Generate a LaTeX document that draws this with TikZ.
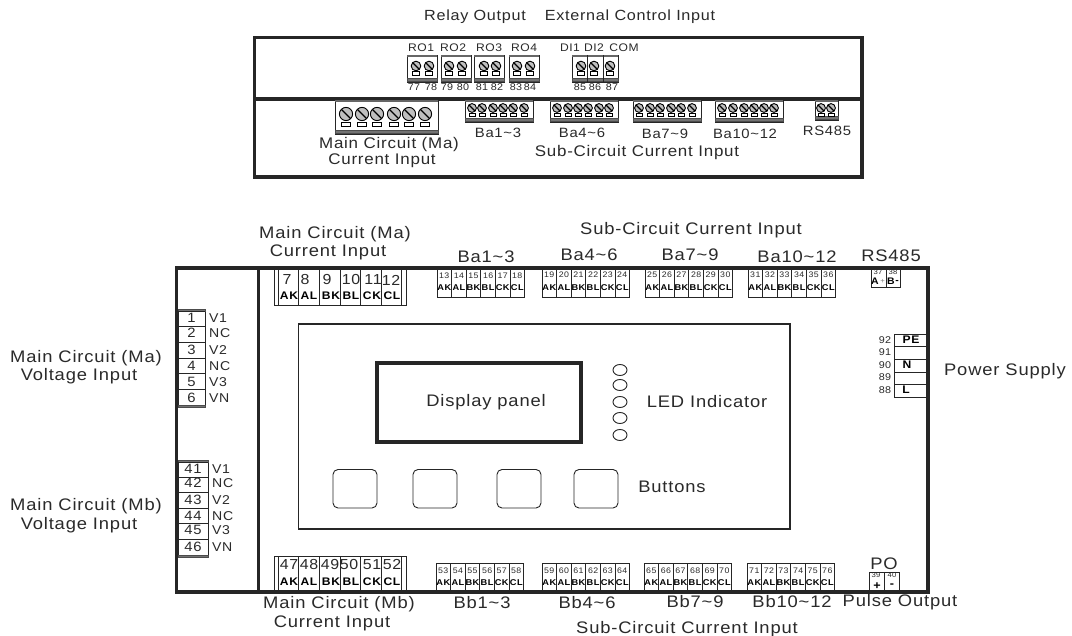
\documentclass[tikz,border=0pt]{standalone}
\usepackage{fontspec}
\setmainfont{Liberation Sans}[LetterSpace=5,FakeStretch=1.1]
\definecolor{inkgray}{HTML}{2A2A2A}
\tikzset{
  wall/.style={line width=3.2pt, color=black!85},
  thinline/.style={line width=0.8pt, color=black!85},
  graybar/.style={fill=black!55, draw=black!70, line width=0.5pt},
  biglabel/.style={inner sep=0pt, text=inkgray, font=\fontsize{16.7}{18}\selectfont},
  toplabel/.style={inner sep=0pt, text=inkgray, font=\fontsize{15.4}{18}\selectfont},
  balabel/.style={inner sep=0pt, text=inkgray, font=\fontsize{13.5}{15}\selectfont},
  headlabel/.style={inner sep=0pt, text=inkgray, font=\fontsize{14.7}{18}\selectfont},
  midlabel/.style={inner sep=0pt, text=inkgray, font=\fontsize{11}{13}\selectfont},
  smallnum/.style={inner sep=0pt, text=inkgray, font=\fontsize{9.8}{11}\selectfont},
  pinnum/.style={inner sep=0pt, text=inkgray, font=\fontsize{14.5}{15}\selectfont},
  tinynum/.style={inner sep=0pt, text=inkgray, font=\fontsize{8}{9}\selectfont},
  microcap/.style={inner sep=0pt, text=inkgray, font=\fontsize{7}{8}\selectfont},
  pinbold/.style={inner sep=0pt, text=black, font=\fontsize{11}{12}\bfseries\selectfont},
  tinybold/.style={inner sep=0pt, text=black, font=\fontsize{8.4}{9}\bfseries\selectfont},
  sidelabel/.style={inner sep=0pt, anchor=west, text=inkgray, font=\fontsize{12.8}{14}\selectfont},
  ledlamp/.style={draw=black!85, line width=0.9pt},
  keybtn/.style={draw=black!85, line width=0.9pt, rounded corners=5pt}
}
\newcommand{\screwblock}[7]{%
  \draw[thinline, fill=white] (#1,#3) rectangle (#2,#4);
  \draw[graybar] (#1,#4-3.5) rectangle (#2,#4-1);
  \draw[line width=1.2pt, color=black!60] (#1,#3+1) -- (#2,#3+1);
  \foreach \sx in {#5} {
    \draw[line width=0.9pt, fill=black!25] (\sx,#6) circle (#7);
    \draw[line width=1.4pt] (\sx-0.7*#7,#6-0.7*#7) -- (\sx+0.7*#7,#6+0.7*#7);
    \draw[line width=0.6pt] (\sx-0.7*#7,#6+1.55*#7-1.7) rectangle (\sx+0.7*#7,#6+1.55*#7+1.7);
  }
}
\newcommand{\tinycells}[6]{%
  \foreach \lab [count=\i from 0] in {AK,AL,BK,BL,CK,CL} {
    \pgfmathsetmacro{\xa}{#1+14.6*\i}
    \pgfmathsetmacro{\xb}{#1+14.6*\i+14.6}
    \pgfmathsetmacro{\xc}{#1+14.6*\i+7.3}
    \pgfmathtruncatemacro{\num}{#4+\i}
    \draw[thinline] (\xa,#2) rectangle (\xb,#3);
    \node[tinynum] (n\num) at (\xc,#5) {\num};
    \node[tinybold] (t\num) at (\xc,#6) {\lab};
  }
}
\newcommand{\pincells}[5]{%
  \draw[thinline] (274,#1) rectangle (406,#2);
  \draw[line width=0.8pt, color=black!50] (278.3,#1) -- (278.3,#2) (401.7,#1) -- (401.7,#2);
  \foreach \n/\lab/\xa/\xb/\xn/\xl in {#5} {
    \draw[thinline] (\xa,#1) -- (\xa,#2) (\xb,#1) -- (\xb,#2);
    \node[pinnum] (n\n) at (\xn,#3) {\n};
    \node[pinbold] (t\n) at (\xl,#4) {\lab};
  }
}
\newcommand{\sidecells}[4]{%
  \draw[thinline] (178,#2) rectangle (#1,#3);
  \draw[graybar] (178,#2-2) rectangle (#1,#2);
  \draw[graybar] (178,#3) rectangle (#1,#3+2);
  \foreach \n/\lab/\ytop/\ymid in {#4} {
    \draw[thinline] (178,\ytop) -- (#1,\ytop);
    \node[pinnum, font=\fontsize{13.5}{14}\selectfont] (n\n) at (#1/2+89,\ymid) {\n};
    \node[sidelabel] (s\n) at (#1+4,\ymid) {\lab};
  }
}
\begin{document}
\begin{tikzpicture}[x=1pt,y=-1pt]
  \useasboundingbox (0,0) rectangle (1072,636);
  \fill[white] (0,0) rectangle (1072,636);

  \node[headlabel] (relayhead) at (475,17) {Relay Output};
  \node[headlabel] (extctrlhead) at (630,17) {External Control Input};

  \draw[wall] (254.5,37.5) rectangle (862,177);
  \draw[wall] (254.5,99) -- (862,99);

  \screwblock{407}{437}{55}{82}{416,429}{66}{4.8}
  \screwblock{441}{471}{55}{82}{449,462}{66}{4.8}
  \screwblock{474}{504}{55}{82}{484,496}{66}{4.8}
  \screwblock{509}{539}{55}{82}{517,530}{66}{4.8}
  \screwblock{572}{618}{55}{82}{581,594,610}{66}{4.8}
  \draw[thinline] (587,55) -- (587,82) (603,55) -- (603,82);
  \foreach \lab/\px in {RO1/421,RO2/453,RO3/489,RO4/524,DI1/570,DI2/594,COM/624}
    \node[midlabel] (\lab) at (\px,48) {\lab};
  \foreach \n/\px in {77/414,78/431,79/447,80/463,81/482,82/497,83/516,84/530,85/580,86/595,87/612}
    \node[smallnum] (pin\n) at (\px,87) {\n};

  \screwblock{335}{438}{100}{134}{346,362,377,394,409,425}{114}{6.6}
  \screwblock{465}{533}{100}{122}{472,482,493,503,513,524}{108}{4.4}
  \screwblock{550}{618}{100}{122}{557,568,578,588,599,609}{108}{4.4}
  \screwblock{633}{701}{100}{122}{639,650,660,671,681,692}{108}{4.4}
  \screwblock{715}{783}{100}{122}{722,733,744,754,764,774}{108}{4.4}
  \screwblock{815}{838}{100}{120}{821,831}{108}{4.4}

  \node[toplabel] (macurtop) at (389,145) {Main Circuit (Ma)};
  \node[toplabel] (macurtopb) at (382,161) {Current Input};
  \node[balabel] (ba13top) at (498,133) {Ba1\textasciitilde 3};
  \node[balabel] (ba46top) at (582,133) {Ba4\textasciitilde 6};
  \node[balabel] (ba79top) at (665,134) {Ba7\textasciitilde 9};
  \node[balabel] (ba1012top) at (745,134) {Ba10\textasciitilde 12};
  \node[balabel] (rstop) at (827,131) {RS485};
  \node[toplabel] (subcurtop) at (637,153) {Sub-Circuit Current Input};

  \draw[wall] (176.5,268) rectangle (928,592);
  \draw[wall] (258.7,268) -- (258.7,592);

  \node[biglabel] (macur) at (335,234) {Main Circuit (Ma)};
  \node[biglabel] (macurb) at (328,252) {Current Input};
  \node[biglabel] (subcur) at (691,230) {Sub-Circuit Current Input};
  \node[biglabel] (ba13) at (486,257) {Ba1\textasciitilde 3};
  \node[biglabel] (ba46) at (589,255) {Ba4\textasciitilde 6};
  \node[biglabel] (ba79) at (690,255) {Ba7\textasciitilde 9};
  \node[biglabel] (ba1012) at (797,257) {Ba10\textasciitilde 12};
  \node[biglabel] (rsfront) at (891,256) {RS485};

  \pincells{269.5}{305}{280}{296}{7/AK/278.3/298.3/287/289,8/AL/298.3/319.3/305/309,9/BK/319.3/340/327/331,10/BL/340/360.7/351/351,11/CK/360.7/381.3/373/372,12/CL/381.3/401.7/391/392}
  \tinycells{437}{269.5}{297}{13}{276}{288}
  \tinycells{542}{269.5}{297}{19}{275}{288}
  \tinycells{645}{269.5}{297}{25}{275}{288}
  \tinycells{748}{269.5}{297}{31}{275}{288}

  \draw[thinline] (871,269.5) rectangle (900,287) (886,269.5) -- (886,287);
  \node[microcap] (n37) at (878,272.5) {37};
  \node[microcap] (n38) at (893,272.5) {38};
  \node[tinybold, font=\fontsize{9.5}{10}\bfseries\selectfont] (ta) at (875,281.5) {A};
  \node[microcap, text=black!50] (tplus) at (882.5,281.5) {+};
  \node[tinybold, font=\fontsize{9.5}{10}\bfseries\selectfont] (tb) at (891,281.5) {B};
  \node[tinybold, font=\fontsize{9.5}{10}\bfseries\selectfont] (tminus) at (897,281.5) {-};

  \sidecells{205}{311}{405}{1/V1/311/318,2/NC/326/333,3/V2/342/350,4/NC/358/366,5/V3/373/382,6/VN/389/398}
  \sidecells{208}{462}{555}{41/V1/462/469,42/NC/477/483,43/V2/492/500,44/NC/508/516,45/V3/523/530,46/VN/539/547}
  \node[biglabel] (mavolt) at (86,358) {Main Circuit (Ma)};
  \node[biglabel] (mavoltb) at (79,376) {Voltage Input};
  \node[biglabel] (mbvolt) at (86,506) {Main Circuit (Mb)};
  \node[biglabel] (mbvoltb) at (79,525) {Voltage Input};

  \draw[line width=1.4pt, color=black!85] (298.7,324) rectangle (790,529);
  \draw[wall] (377,363) rectangle (581,442);
  \node[biglabel] (disp) at (486,402) {Display panel};
  \foreach \ly in {370,385,402,418,435}
    \draw[ledlamp] (620,\ly) ellipse (7 and 5.5);
  \node[biglabel] (ledtxt) at (707,402) {LED Indicator};
  \foreach \bx in {333,413,497,574}
    \draw[keybtn] (\bx,469.5) rectangle (\bx+44,508);
  \node[biglabel] (btntxt) at (672,487) {Buttons};

  \draw[thinline] (894,334) rectangle (927,397);
  \foreach \py in {346,359,372,384}
    \draw[thinline] (894,\py) -- (927,\py);
  \foreach \n/\py in {92/340,91/352,90/365,89/377,88/390}
    \node[smallnum] (pin\n) at (885,\py) {\n};
  \node[pinbold] (tpe) at (911,340) {PE};
  \node[pinbold] (tn) at (907,365) {N};
  \node[pinbold] (tl) at (906,390) {L};
  \node[biglabel] (powertxt) at (1005,371) {Power Supply};

  \pincells{556}{592}{564.5}{582}{47/AK/278.3/298.3/289/289,48/AL/298.3/319.3/309/309,49/BK/319.3/340/330/331,50/BL/340/360.7/349/351,51/CK/360.7/381.3/372/372,52/CL/381.3/401.7/392/392}
  \tinycells{436}{563}{592}{53}{571}{583}
  \tinycells{542}{563}{592}{59}{571}{583}
  \tinycells{644}{563}{592}{65}{571}{583}
  \tinycells{747}{563}{592}{71}{571}{583}

  \draw[thinline] (869,572) rectangle (899,592) (884,572) -- (884,592);
  \node[microcap] (n39) at (876,575) {39};
  \node[microcap] (n40) at (892,575) {40};
  \node[tinybold, font=\fontsize{11.5}{12}\bfseries\selectfont] (tpos) at (877,586) {+};
  \node[tinybold, font=\fontsize{11.5}{12}\bfseries\selectfont] (tneg) at (892,586) {-};
  \node[biglabel] (potxt) at (884,564) {PO};

  \node[biglabel] (mbcur) at (339,604) {Main Circuit (Mb)};
  \node[biglabel] (mbcurb) at (332,623) {Current Input};
  \node[biglabel] (bb13) at (482,603) {Bb1\textasciitilde 3};
  \node[biglabel] (bb46) at (587,603) {Bb4\textasciitilde 6};
  \node[biglabel] (bb79) at (695,602) {Bb7\textasciitilde 9};
  \node[biglabel] (bb1012) at (792,602) {Bb10\textasciitilde 12};
  \node[biglabel] (pulsetxt) at (900,602) {Pulse Output};
  \node[biglabel] (subcurb) at (687,629) {Sub-Circuit Current Input};
\end{tikzpicture}
\end{document}
